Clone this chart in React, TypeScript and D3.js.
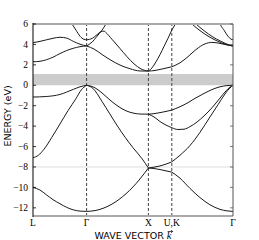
import React, { useEffect, useRef } from "react";
import * as d3 from "d3";

// high symmetry points along the k path (fraction of path length)
const symK = [0, 0.268, 0.577, 0.694, 1];
const symLabels = ["L", "Γ", "X", "U,K", "Γ"];
const yTicks = [6, 4, 2, 0, -2, -4, -6, -8, -10, -12];
const gapRange = [0, 1.1];
const refEnergy = -8;

// valence bands [k, E]
const band1 = [
  [0, -10.0], [0.034, -10.25], [0.067, -10.72], [0.1, -11.2], [0.135, -11.6], [0.168, -11.95], [0.2015, -12.2], [0.235, -12.32], [0.268, -12.35],
  [0.31, -12.27], [0.35, -12.05], [0.39, -11.69], [0.43, -11.18], [0.465, -10.62], [0.5, -9.95], [0.53, -9.29], [0.555, -8.67], [0.577, -8.1],
  [0.605, -8.15], [0.635, -8.25], [0.665, -8.38], [0.694, -8.5],
  [0.735, -9.1], [0.785, -10.1], [0.835, -11.0], [0.885, -11.7], [0.935, -12.15], [0.97, -12.3], [1, -12.35],
];
const band2 = [
  [0, -7.1], [0.027, -6.85], [0.0535, -6.3], [0.094, -5.1], [0.1345, -3.8], [0.1745, -2.5], [0.215, -1.3], [0.2415, -0.45], [0.268, 0],
  [0.2995, -0.3], [0.3455, -1.6], [0.384, -2.8], [0.4225, -4.0], [0.461, -5.1], [0.4995, -6.1], [0.5455, -7.2], [0.577, -8.1],
  [0.605, -8.02], [0.635, -7.9], [0.665, -7.72], [0.694, -7.5],
  [0.735, -6.85], [0.785, -5.9], [0.835, -4.6], [0.885, -3.1], [0.925, -1.9], [0.96, -0.85], [0.985, -0.25], [1, 0],
];
const band3 = [
  [0, -1.15], [0.067, -1.1], [0.1345, -0.9], [0.2015, -0.4], [0.235, -0.15], [0.268, 0],
  [0.305, -0.2], [0.345, -0.75], [0.385, -1.45], [0.425, -2.05], [0.465, -2.5], [0.505, -2.74], [0.54, -2.82], [0.577, -2.83],
  [0.605, -3.1], [0.635, -3.55], [0.665, -3.9], [0.694, -4.15],
  [0.725, -4.33], [0.755, -4.3], [0.785, -4.05], [0.82, -3.6], [0.855, -3.0], [0.895, -2.2], [0.935, -1.25], [0.965, -0.55], [0.985, -0.18], [1, 0],
];
const band4 = [
  [0.577, -2.83], [0.605, -2.78], [0.635, -2.68], [0.665, -2.56], [0.694, -2.43],
  [0.735, -2.1], [0.775, -1.7], [0.81, -1.28], [0.855, -0.8], [0.895, -0.42], [0.935, -0.15], [0.97, -0.03], [1, 0],
];

// conduction bands
const cband1 = [
  [0, 2.3], [0.035, 2.35], [0.067, 2.5], [0.1, 2.75], [0.1345, 3.1], [0.168, 3.4], [0.2015, 3.62], [0.235, 3.78], [0.268, 3.85],
  [0.305, 3.55], [0.35, 2.95], [0.39, 2.45], [0.435, 1.98], [0.485, 1.62], [0.535, 1.4], [0.577, 1.39],
  [0.61, 1.45], [0.635, 1.55], [0.665, 1.68], [0.694, 1.81],
  [0.735, 2.2], [0.775, 2.8], [0.815, 3.5], [0.86, 4.05], [0.895, 4.2], [0.935, 4.1], [0.97, 3.95], [1, 3.85],
];
const cband2 = [
  [0, 4.17], [0.035, 4.3], [0.067, 4.45], [0.1, 4.6], [0.135, 4.7], [0.168, 4.62], [0.2015, 4.3], [0.235, 4.02], [0.268, 3.85],
  [0.2965, 4.25], [0.32, 4.8], [0.345, 5.4], [0.365, 6.0], [0.385, 6.6],
];
const cband3 = [
  [0.185, 6.3], [0.195, 6.0], [0.215, 5.4], [0.235, 4.8], [0.255, 4.5], [0.268, 4.45],
  [0.2965, 4.6], [0.32, 4.95], [0.34, 5.25], [0.355, 5.3], [0.365, 5.15], [0.395, 4.5], [0.435, 3.6], [0.47, 2.8], [0.505, 2.1], [0.54, 1.6], [0.577, 1.39],
  [0.595, 1.7], [0.615, 2.3], [0.635, 3.0], [0.655, 3.8], [0.675, 4.6], [0.694, 5.4],
  [0.715, 6.1], [0.735, 6.8],
];
const cband4 = [[0.76, 6.7], [0.795, 6.0], [0.835, 5.35], [0.885, 4.7], [0.925, 4.3], [0.96, 4.03], [0.985, 3.9], [1, 3.85]];
const cband5 = [[0.78, 6.7], [0.815, 6.0], [0.855, 5.35], [0.9, 4.72], [0.935, 4.35], [0.965, 4.07], [0.985, 3.92], [1, 3.85]];
const cband6 = [[0.93, 6.5], [0.935, 6.1], [0.955, 5.4], [0.975, 4.8], [0.99, 4.52], [1, 4.45]];

const allBands = [band1, band2, band3, band4, cband1, cband2, cband3, cband4, cband5, cband6];

export default function App() {
  const ref = useRef<SVGSVGElement>(null);

  useEffect(() => {
    const width = 259;
    const height = 240;
    const margin = { top: 24, right: 26, bottom: 24, left: 33 };
    const svg = d3.select(ref.current);
    svg.selectAll("*").remove();

    const x = d3.scaleLinear().domain([0, 1]).range([margin.left, width - margin.right]);
    const y = d3.scaleLinear().domain([-12.8, 6]).range([height - margin.bottom, margin.top]);
    const [x0, x1] = x.range();
    const [y0, y1] = y.range();

    svg.append("defs").append("clipPath").attr("id", "plotclip")
      .append("rect").attr("x", x0).attr("y", y1).attr("width", x1 - x0).attr("height", y0 - y1);

    const plot = svg.append("g").attr("clip-path", "url(#plotclip)");

    // band gap shading
    plot.append("rect")
      .attr("x", x0).attr("width", x1 - x0)
      .attr("y", y(gapRange[1])).attr("height", y(gapRange[0]) - y(gapRange[1]))
      .attr("fill", "#cccccc");

    plot.append("line")
      .attr("x1", x0).attr("x2", x1).attr("y1", y(refEnergy)).attr("y2", y(refEnergy))
      .attr("stroke", "#dddddd").attr("stroke-width", 1);

    // dashed lines at inner symmetry points
    plot.selectAll(".sym").data(symK.slice(1, -1)).enter().append("line")
      .attr("x1", (d) => x(d)).attr("x2", (d) => x(d))
      .attr("y1", y0).attr("y2", y1)
      .attr("stroke", "#444").attr("stroke-width", 1).attr("stroke-dasharray", "3,2");

    const line = d3.line<number[]>()
      .x((d) => x(d[0]))
      .y((d) => y(d[1]))
      .curve(d3.curveMonotoneX);

    allBands.forEach((band) => {
      for (let i = 0; i < symK.length - 1; i++) {
        const seg = band.filter((p) => p[0] >= symK[i] - 1e-6 && p[0] <= symK[i + 1] + 1e-6);
        if (seg.length < 2) continue;
        plot.append("path")
          .attr("d", line(seg))
          .attr("fill", "none")
          .attr("stroke", "#1a1a1a")
          .attr("stroke-width", 1);
      }
    });

    // spines
    svg.append("line").attr("x1", x0).attr("x2", x1).attr("y1", y1).attr("y2", y1)
      .attr("stroke", "#aaaaaa").attr("stroke-width", 2);
    svg.append("line").attr("x1", x0).attr("x2", x1).attr("y1", y0).attr("y2", y0)
      .attr("stroke", "#aaaaaa").attr("stroke-width", 2);
    svg.append("line").attr("x1", x1).attr("x2", x1).attr("y1", y1).attr("y2", y0)
      .attr("stroke", "#555").attr("stroke-width", 1);
    svg.append("line").attr("x1", x0).attr("x2", x0).attr("y1", y1 - 1).attr("y2", y0 + 1)
      .attr("stroke", "#000").attr("stroke-width", 1);

    // y ticks
    const yt = svg.append("g");
    yTicks.forEach((t) => {
      yt.append("line").attr("x1", x0).attr("x2", x0 + 3).attr("y1", y(t)).attr("y2", y(t))
        .attr("stroke", "#000").attr("stroke-width", 0.8);
      yt.append("line").attr("x1", x1).attr("x2", x1 - 3).attr("y1", y(t)).attr("y2", y(t))
        .attr("stroke", "#555").attr("stroke-width", 0.8);
      yt.append("text")
        .attr("x", x0 - 5).attr("y", y(t) + 3.2)
        .attr("text-anchor", "end")
        .attr("font-family", "'Liberation Serif', serif")
        .attr("font-size", 9.5)
        .text(t < 0 ? "\u2212" + Math.abs(t) : String(t));
    });

    // x tick labels
    svg.selectAll(".klab").data(symK).enter().append("text")
      .attr("x", (d) => x(d)).attr("y", y0 + 10)
      .attr("text-anchor", "middle")
      .attr("font-family", "'Liberation Serif', serif")
      .attr("font-size", 9.5)
      .text((d, i) => symLabels[i]);

    // axis labels
    const xl = svg.append("text")
      .attr("x", (x0 + x1) / 2).attr("y", 239)
      .attr("text-anchor", "middle")
      .attr("font-family", "'DejaVu Sans', sans-serif")
      .attr("font-size", 9.5);
    xl.append("tspan").text("WAVE VECTOR ");
    xl.append("tspan").attr("font-family", "'Liberation Serif', serif").attr("font-style", "italic").attr("font-size", 10.5).text("k");
    const node = xl.node() as SVGTextElement;
    const n = node.getNumberOfChars();
    const s = node.getStartPositionOfChar(n - 1);
    const e = node.getEndPositionOfChar(n - 1);
    const ay = 231.5;
    svg.append("path")
      .attr("d", `M${s.x + 0.8},${ay}L${e.x + 1.2},${ay}M${e.x - 0.6},${ay - 1.3}L${e.x + 1.2},${ay}L${e.x - 0.6},${ay + 1.3}`)
      .attr("fill", "none").attr("stroke", "#000").attr("stroke-width", 0.7);

    svg.append("text")
      .attr("transform", `translate(11,${(y0 + y1) / 2 - 4}) rotate(-90)`)
      .attr("text-anchor", "middle")
      .attr("font-family", "'DejaVu Sans', sans-serif")
      .attr("font-size", 9.5)
      .text("ENERGY (eV)");
  }, []);

  return (
    <svg
      ref={ref}
      width={259}
      height={240}
      style={{ position: "absolute", left: 0, top: 0, background: "#fff" }}
    />
  );
}
